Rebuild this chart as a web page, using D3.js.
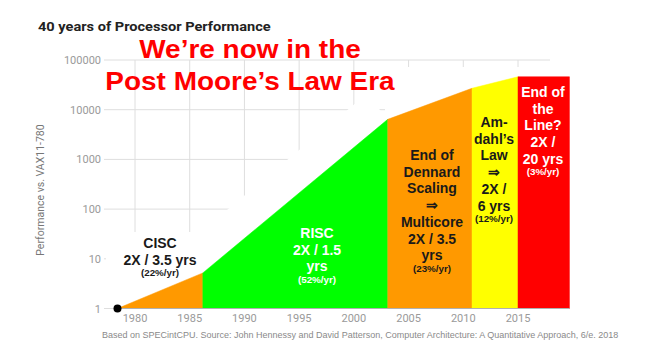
<!DOCTYPE html>
<html>
<head>
<meta charset="utf-8">
<script src="https://cdn.jsdelivr.net/npm/d3@7"></script>
<style>
  body { margin: 0; background: #fff; }
  svg { display: block; }
</style>
</head>
<body>
<svg id="chart"></svg>
<script>
// Values
const years = [1978.4, 1986.2, 2003.1, 2010.8, 2015, 2019.7];
const perf = [1, 5.2, 6400, 27000, 46000, 46000];
const eraColors = ['#ff9900', '#00ff00', '#ff9900', '#ffff00', '#ff0000'];
const yTicks = [1, 10, 100, 1000, 10000, 100000];
const xTicks = [1980, 1985, 1990, 1995, 2000, 2005, 2010, 2015];

const width = 647, height = 352;

const svg = d3.select('#chart')
    .attr('width', width)
    .attr('height', height);

const x = d3.scaleLinear().domain([1980, 2015]).range([135, 518]);
const y = d3.scaleLog().domain([1, 100000]).range([308.5, 60]);

const points = years.map((yr, i) => ({ year: yr, value: perf[i] }));

// gridlines
const grid = svg.append('g');
grid.selectAll('line.h')
    .data(yTicks)
  .enter().append('line')
    .attr('x1', 104).attr('x2', 550)
    .attr('y1', d => y(d)).attr('y2', d => y(d))
    .style('stroke', '#dedede').style('stroke-width', '1px');
grid.selectAll('line.v')
    .data(xTicks)
  .enter().append('line')
    .attr('x1', d => x(d)).attr('x2', d => x(d))
    .attr('y1', y(100000)).attr('y2', y(1))
    .style('stroke', '#dedede').style('stroke-width', '1px');

// white patches that hide the grid near the curve
let line = d3.line().x(d => x(d.year)).y(d => y(d.value));
svg.append('path')
    .attr('d', line(points.slice(1, 3)))
    .style('fill', 'none').style('stroke', '#fff')
    .style('stroke-width', 66).style('stroke-linejoin', 'round');
svg.append('rect')
    .attr('x', 385).attr('y', 67).attr('width', 190).attr('height', 240)
    .style('fill', '#fff');
svg.append('rect')
    .attr('x', 106).attr('y', 232).attr('width', 96).attr('height', 74)
    .style('fill', '#fff');

// coloured eras
let area = d3.area()
    .x(d => x(d.year))
    .y0(y(1))
    .y1(d => y(d.value));

svg.selectAll('path.era')
    .data(eraColors)
  .enter().append('path')
    .attr('class', 'era')
    .attr('d', (c, i) => area(points.slice(i, i + 2)))
    .style('fill', c => c)
    .style('stroke', c => c)
    .style('stroke-width', '0.5px');

svg.append('line')
    .attr('x1', x(years[0])).attr('x2', x(years[years.length - 1]))
    .attr('y1', y(1)).attr('y2', y(1))
    .style('stroke', '#b0b0b0').style('stroke-width', '1px');

svg.append('circle')
    .attr('cx', x(years[0])).attr('cy', y(perf[0]))
    .attr('r', 4)
    .style('fill', '#000');

// axes text
svg.selectAll('text.ytick')
    .data(yTicks)
  .enter().append('text')
    .attr('x', 101).attr('y', d => y(d) + 4)
    .attr('text-anchor', 'end')
    .style('font', '11px Roboto, sans-serif')
    .style('fill', '#9a9a9a')
    .text(d => d);

svg.selectAll('text.xtick')
    .data(xTicks)
  .enter().append('text')
    .attr('x', d => x(d)).attr('y', 322)
    .attr('text-anchor', 'middle')
    .style('font', '11px Roboto, sans-serif')
    .style('fill', '#9a9a9a')
    .text(d => d);

svg.append('text')
    .attr('transform', 'translate(44,190) rotate(-90)')
    .attr('text-anchor', 'middle')
    .style('font', '10.5px Roboto, sans-serif')
    .style('fill', '#777')
    .text('Performance vs. VAX11-780');

svg.append('text')
    .attr('transform', 'translate(38,31) scale(1.08,1)')
    .style('font', 'bold 13.5px Roboto, sans-serif')
    .style('fill', '#222')
    .text('40 years of Processor Performance');

svg.append('text')
    .attr('x', 102).attr('y', 337.5)
    .style('font', '9px "Liberation Sans", Arial, sans-serif')
    .style('fill', '#8a8a8a')
    .text('Based on SPECintCPU. Source: John Hennessy and David Patterson, Computer Architecture: A Quantitative Approach, 6/e. 2018');

// headline
svg.selectAll('text.head')
    .data(['We\u2019re now in the', 'Post Moore\u2019s Law Era'])
  .enter().append('text')
    .attr('transform', (d, i) => `translate(250,${58 + i * 32}) scale(1.075,1)`)
    .attr('text-anchor', 'middle')
    .style('font', 'bold 26px "Liberation Sans", Arial, sans-serif')
    .style('fill', '#ff0000')
    .text(d => d);

// era labels
const labels = [
  { x: 160, y: 248, color: '#1a1a1a', big: ['CISC', '2X / 3.5 yrs'], small: '(22%/yr)' },
  { x: 317, y: 238, color: '#fff', big: ['RISC', '2X / 1.5', 'yrs'], small: '(52%/yr)' },
  { x: 432, y: 160, color: '#1a1a1a', big: ['End of', 'Dennard', 'Scaling', '\u21d2', 'Multicore', '2X / 3.5', 'yrs'], small: '(23%/yr)' },
  { x: 494, y: 127, color: '#1a1a1a', big: ['Am-', 'dahl\u2019s', 'Law', '\u21d2', '2X /', '6 yrs'], small: '(12%/yr)' },
  { x: 543, y: 97, color: '#fff', big: ['End of', 'the', 'Line?', '2X /', '20 yrs'], small: '(3%/yr)' }
];

labels.forEach(l => {
  let g = svg.append('g').attr('transform', `translate(${l.x},${l.y})`);
  g.selectAll('text.big')
      .data(l.big)
    .enter().append('text')
      .attr('y', (d, i) => i * 16.7)
      .attr('text-anchor', 'middle')
      .style('font', 'bold 14px "Liberation Sans", Arial, sans-serif')
      .style('fill', l.color)
      .text(d => d);
  g.append('text')
      .attr('y', (l.big.length - 1) * 16.7 + 11.5)
      .attr('text-anchor', 'middle')
      .style('font', 'bold 9.8px "Liberation Sans", Arial, sans-serif')
      .style('fill', l.color)
      .text(l.small);
});
</script>
</body>
</html>
